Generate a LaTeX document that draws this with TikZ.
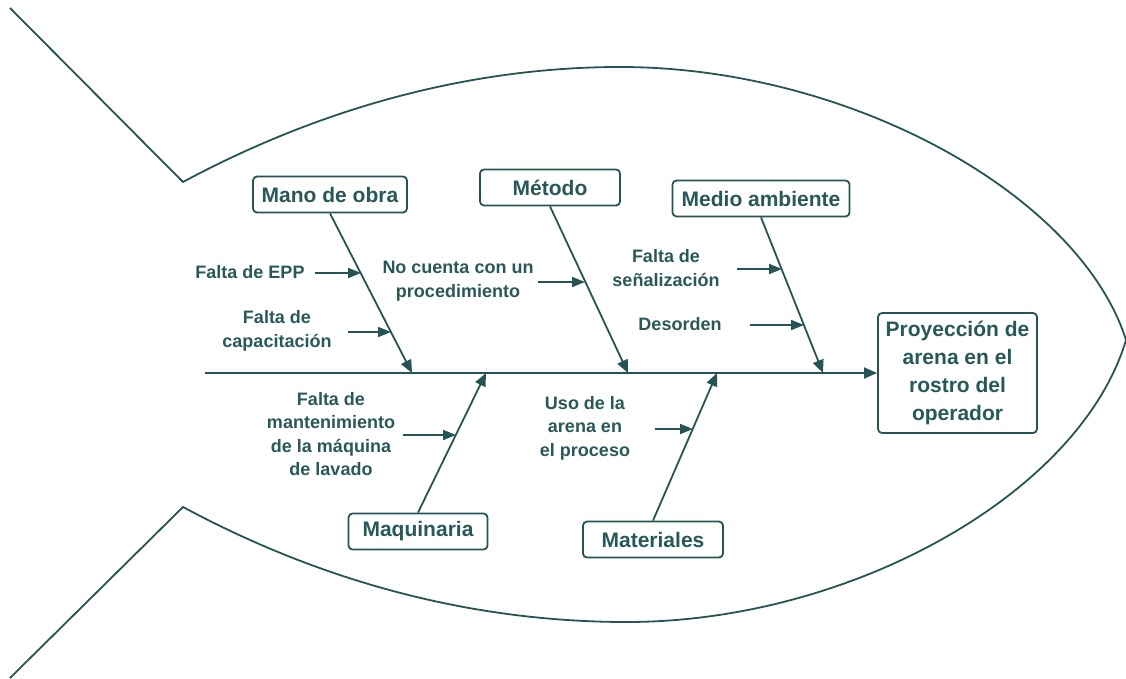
\documentclass[tikz,border=0pt]{standalone}
\usepackage{fontspec}
\setmainfont{Liberation Sans}
\usetikzlibrary{arrows.meta}
\definecolor{teal1}{RGB}{38,84,84}
\definecolor{tealtext}{RGB}{40,88,88}
\begin{document}
\begin{tikzpicture}[x=1pt,y=-1pt,
  outline/.style={draw=teal1,line width=1.8pt,line join=miter},
  catbox/.style={draw=teal1,line width=1.8pt,rounded corners=4pt,fill=white,
    text=tealtext,font=\fontsize{21}{25}\selectfont\bfseries,inner sep=0pt,
    minimum height=36pt},
  effbox/.style={draw=teal1,line width=1.8pt,rounded corners=4pt,fill=white,
    text=tealtext,font=\fontsize{21}{27.7}\selectfont\bfseries,align=center,
    inner sep=0pt,minimum width=159pt,minimum height=120pt},
  sublabel/.style={text=tealtext,font=\fontsize{18}{23.5}\selectfont\bfseries,
    align=center,inner sep=0pt},
  bone/.style={draw=teal1,line width=1.8pt,-{Triangle[length=13pt,width=11pt]}},
  twig/.style={draw=teal1,line width=1.8pt,-{Triangle[length=13pt,width=10pt]}}
]
\useasboundingbox (0,0) rectangle (1126,679);

% fish outline
\draw[outline] (10,8) -- (183,182)
  .. controls (330,103) and (480,67) .. (620,67)
  .. controls (850,67) and (1080,195) .. (1126,340);
\draw[outline] (10,678) -- (183,507)
  .. controls (330,586) and (480,622) .. (627,622)
  .. controls (850,622) and (1080,494) .. (1126,340);

% effect and categories
\node[effbox] (eff) at (957.5,373) {Proyección de\\arena en el\\rostro del\\operador};
\node[catbox,minimum width=154pt] (mano) at (330,194.5) {Mano de obra};
\node[catbox,minimum width=140pt] (metodo) at (550,187.5) {Método};
\node[catbox,minimum width=177pt] (medio) at (761,198.5) {Medio ambiente};
\node[catbox,minimum width=139pt] (maq) at (418,531.5) {Maquinaria};
\node[catbox,minimum width=140pt] (mat) at (653,539.5) {Materiales};

% spine
\coordinate (tail) at (205,373);
\draw[bone] (tail) -- (eff.west);

% bone ends on spine
\coordinate (b1) at (412,373);
\coordinate (b2) at (628,373);
\coordinate (b3) at (823,373);
\coordinate (b4) at (486,373);
\coordinate (b5) at (717,373);
\draw[bone] (mano.south) -- (b1);
\draw[bone] (metodo.south) -- (b2);
\draw[bone] (medio.south) -- (b3);
\draw[bone] (maq.north) -- (b4);
\draw[bone] (mat.north) -- (b5);

% causes
\node[sublabel] (c1) at (250,272) {Falta de EPP};
\node[sublabel] (c2) at (277,331) {Falta de\\capacitación};
\node[sublabel] (c3) at (458,281) {No cuenta con un\\procedimiento};
\node[sublabel] (c4) at (666,268) {Falta de\\señalización};
\node[sublabel] (c5) at (680,324) {Desorden};
\node[sublabel] (c6) at (331,434) {Falta de\\mantenimiento\\de la máquina\\de lavado};
\node[sublabel] (c7) at (585,428) {Uso de la\\arena en\\el proceso};

\coordinate (s1) at (315,273); \coordinate (t1) at (361,273);
\coordinate (s2) at (348,332); \coordinate (t2) at (391,332);
\coordinate (s3) at (538,282); \coordinate (t3) at (585,282);
\coordinate (s4) at (737,269); \coordinate (t4) at (782,269);
\coordinate (s5) at (750,325); \coordinate (t5) at (804,325);
\coordinate (s6) at (403,435); \coordinate (t6) at (456,435);
\coordinate (s7) at (655,429); \coordinate (t7) at (693,429);
\foreach \i in {1,...,7} { \draw[twig] (s\i) -- (t\i); }
\end{tikzpicture}
\end{document}
